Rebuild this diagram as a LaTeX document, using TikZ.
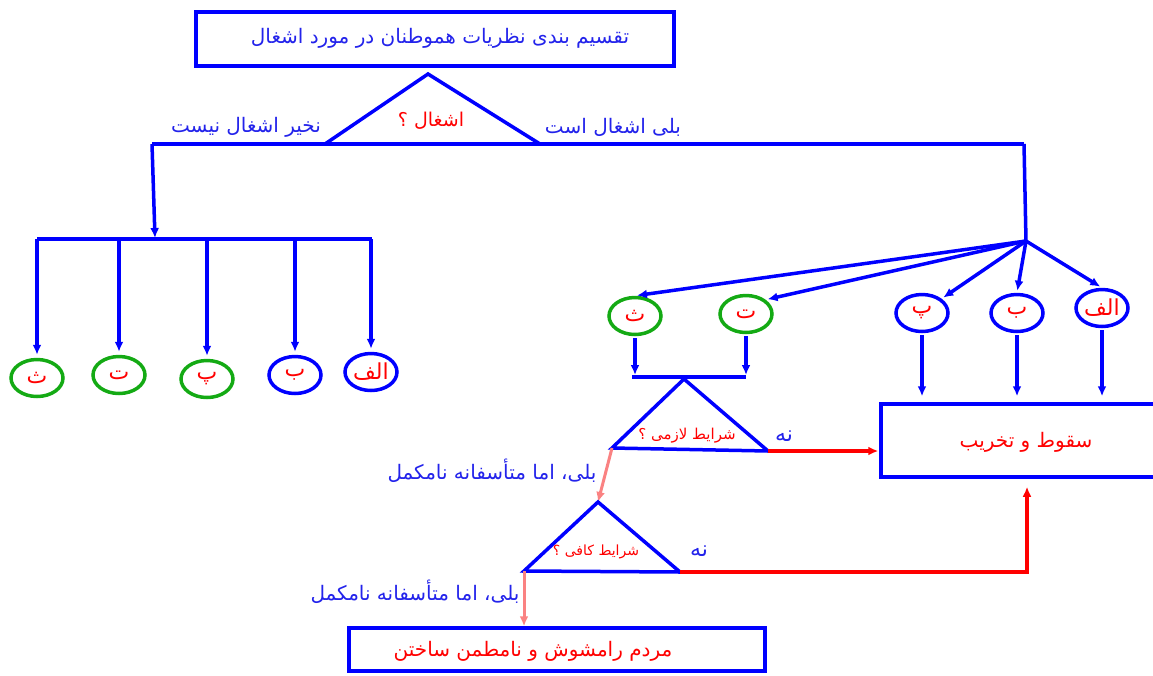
\documentclass[tikz,border=0pt]{standalone}
\usepackage{fontspec}
\TeXXeTstate=1
\newfontfamily\arabicfont[Script=Arabic]{DejaVu Sans}
\usetikzlibrary{arrows.meta,shapes.geometric}
\definecolor{cblue}{RGB}{0,0,255}
\definecolor{ctext}{RGB}{35,35,235}
\definecolor{cgreen}{RGB}{20,170,20}
\definecolor{cred}{RGB}{255,0,0}
\definecolor{cpink}{RGB}{250,130,130}
\newcommand{\fa}[1]{\arabicfont\beginR #1\endR}
\newcommand{\fs}[1]{\fontsize{#1}{#1}\selectfont}
\begin{document}
\begin{tikzpicture}[x=1pt,y=-1pt,
  bl/.style={draw=cblue,line width=3.5pt},
  rl/.style={draw=cred,line width=3.5pt},
  pl/.style={draw=cpink,line width=3pt},
  arr/.style={-{Latex[length=10pt,width=9pt]}},
  ell/.style={ellipse,line width=3.5pt,minimum width=52pt,minimum height=37pt,inner sep=0pt,text=cred,font=\arabicfont\fs{22}},
  gell/.style={ell,draw=cgreen},
  bell/.style={ell,draw=cblue},
  box/.style={draw=cblue,line width=3.5pt,rectangle,inner sep=0pt},
  lbl/.style={text=ctext,inner sep=0pt},
  rlbl/.style={text=cred,inner sep=0pt},
]
\useasboundingbox (0,0) rectangle (1153,675);

% title
\node[box,minimum width=478pt,minimum height=54pt] (title) at (435,39) {};
\node[lbl,font=\fs{20}] (titletxt) at (440,38) {\fa{تقسیم بندی نظریات هموطنان در مورد اشغال}};

% triangle 1
\coordinate (t1a) at (428,74);
\coordinate (t1l) at (325,144);
\coordinate (t1r) at (540,144);
\draw[bl,line join=miter] (t1l) -- (t1a) -- (t1r);
\node[rlbl,font=\fs{19}] (q1) at (431,121) {\fa{اشغال ؟}};
\node[lbl,font=\fs{20}] (no1) at (246,127) {\fa{نخیر اشغال نیست}};
\node[lbl,font=\fs{20}] (yes1) at (613,127) {\fa{بلی اشغال است}};

\coordinate (hl) at (152,144);
\coordinate (hr) at (1024,144);
\draw[bl] (hl) -- (hr);

% left branch
\coordinate (lbl) at (37,239);
\coordinate (lbr) at (372,239);
\coordinate (lin) at (155,238);
\draw[bl,arr] (hl) -- (lin);
\draw[bl] (lbl) -- (lbr);
\node[gell] (L1) at (37,378) {\fa{ث}};
\node[gell] (L2) at (119,375) {\fa{ت}};
\node[gell] (L3) at (207,379) {\fa{پ}};
\node[bell] (L4) at (295,375) {\fa{ب}};
\node[bell] (L5) at (371,372) {\fa{الف}};
\foreach \n in {L1,L2,L3,L4,L5}
  \draw[bl,arr,shorten >=3pt] (\n.north |- lbl) -- (\n.north);

% right branch
\coordinate (fan) at (1026,241);
\draw[bl] (hr) -- (fan);
\node[gell] (R1) at (635,316) {\fa{ث}};
\node[gell] (R2) at (746,314) {\fa{ت}};
\node[bell] (R3) at (922,313) {\fa{پ}};
\node[bell] (R4) at (1017,313) {\fa{ب}};
\node[bell] (R5) at (1102,308) {\fa{الف}};
\draw[bl,arr,shorten >=2pt] (fan) -- (R1.north);
\draw[bl,arr,shorten >=2pt] (fan) -- (R2.north east);
\draw[bl,arr,shorten >=2pt] (fan) -- (R3.north east);
\draw[bl,arr,shorten >=2pt] (fan) -- (R4.north);
\draw[bl,arr,shorten >=2pt] (fan) -- (R5.north);

% collapse box
\node[box,minimum width=279pt,minimum height=73pt] (sqt) at (1020.5,440.5) {};
\node[rlbl,font=\arabicfont\fs{20}] (sqttxt) at (1026,442) {\beginR سقوط و تخریب\endR};
\foreach \n in {R3,R4,R5}
  \draw[bl,arr,shorten <=2pt,shorten >=6pt] (\n.south) -- (\n.south |- sqt.north);

% bar under R1,R2
\coordinate (b2l) at (632,377);
\coordinate (b2r) at (746,377);
\draw[bl,arr,shorten <=2pt,shorten >=2pt] (R1.south) -- (R1.south |- b2l);
\draw[bl,arr,shorten <=2pt,shorten >=2pt] (R2.south) -- (R2.south |- b2r);
\draw[bl] (b2l) -- (b2r);

% triangle 2
\coordinate (t2a) at (684,379);
\coordinate (t2l) at (612,448);
\coordinate (t2r) at (768,451);
\draw[bl,line join=miter] (t2a) -- (t2l) -- (t2r) -- cycle;
\node[rlbl,font=\fs{15}] (q2) at (687,436) {\fa{شرایط لازمی ؟}};
\node[lbl,font=\fs{22}] (no2) at (784,436) {\fa{نه}};
\draw[rl,arr,shorten >=1pt] (t2r) -- (t2r -| sqt.west);

% triangle 3
\coordinate (t3a) at (598,502);
\coordinate (t3l) at (524,571);
\coordinate (t3r) at (680,572);
\draw[pl,arr] (t2l) -- (t3a);
\node[lbl,font=\fs{20}] (yes2) at (492,471) {\fa{بلی، اما متأسفانه نامکمل}};
\draw[bl,line join=miter] (t3a) -- (t3l) -- (t3r) -- cycle;
\node[rlbl,font=\fs{14}] (q3) at (596,552) {\fa{شرایط کافی ؟}};
\node[lbl,font=\fs{22}] (no3) at (699,551) {\fa{نه}};
\coordinate (rc) at (1027,572);
\draw[rl,arr,shorten >=8pt] (t3r) -- (rc) -- (rc |- sqt.south);

% bottom box
\node[box,minimum width=416pt,minimum height=43pt] (bot) at (557,649.5) {};
\node[rlbl,font=\fs{20}] (bottxt) at (533,651) {\fa{مردم رامشوش  و نامطمن ساختن}};
\draw[pl,arr] (t3l) -- (t3l |- bot.north);
\node[lbl,font=\fs{20}] (yes3) at (415,592) {\fa{بلی، اما متأسفانه نامکمل}};
\end{tikzpicture}
\end{document}
